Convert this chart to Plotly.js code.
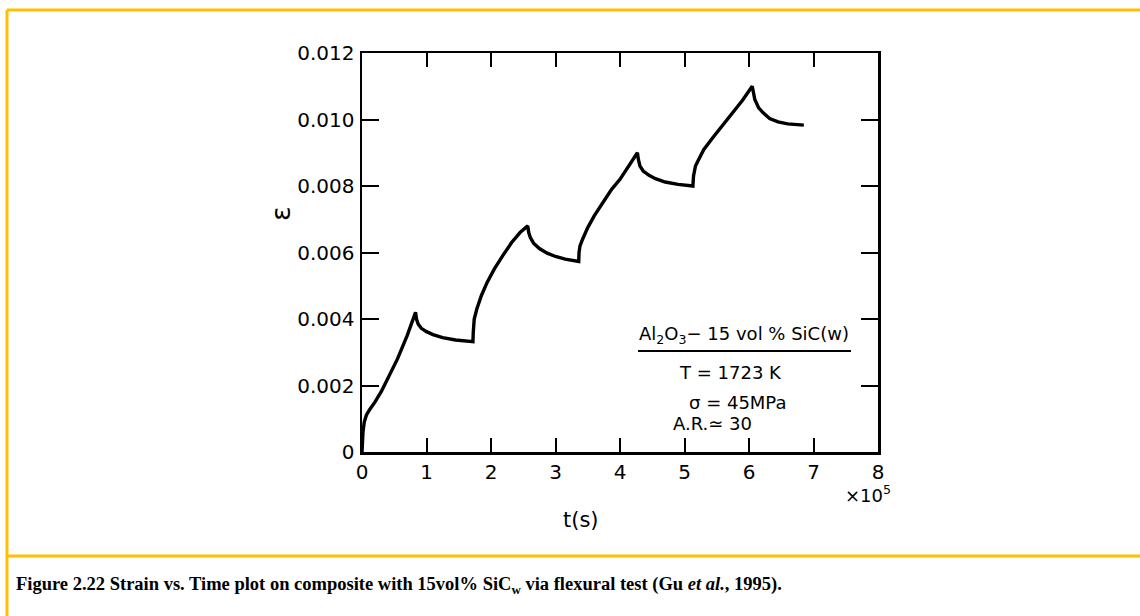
<!DOCTYPE html>
<html>
<head>
<meta charset="utf-8">
<script src="https://cdn.plot.ly/plotly-3.0.1.min.js"></script>
<style>
  html, body { margin: 0; padding: 0; background: #ffffff; }
  #chart { width: 1140px; height: 616px; }
</style>
</head>
<body>
<div id="chart"></div>
<script>
// time in units of 10^5 s
const timeValues = [
  0, 0.005, 0.015, 0.035, 0.07, 0.12, 0.2, 0.3, 0.42, 0.55, 0.7, 0.83,
  0.845, 0.87, 0.92, 1.0, 1.1, 1.25, 1.45, 1.72,
  1.725, 1.74, 1.78, 1.85, 1.94, 2.05, 2.18, 2.32, 2.45, 2.57,
  2.585, 2.61, 2.66, 2.75, 2.87, 3.0, 3.15, 3.36,
  3.365, 3.38, 3.42, 3.5, 3.6, 3.74, 3.87, 4.0, 4.13, 4.27,
  4.285, 4.31, 4.36, 4.45, 4.55, 4.7, 4.9, 5.13,
  5.14, 5.17, 5.22, 5.3, 5.45, 5.6, 5.75, 5.9, 6.05,
  6.065, 6.09, 6.15, 6.22, 6.32, 6.45, 6.6, 6.85
];
// strain
const strainValues = [
  0, 0.0003, 0.0006, 0.0009, 0.00112, 0.00128, 0.0015, 0.00182, 0.0023, 0.0028, 0.0035, 0.0042,
  0.0040, 0.00385, 0.00372, 0.00362, 0.00353, 0.00344, 0.00337, 0.00332,
  0.0036, 0.0040, 0.0043, 0.0047, 0.0051, 0.0055, 0.0059, 0.0063, 0.0066, 0.0068,
  0.0066, 0.00645, 0.00628, 0.00612, 0.00598, 0.00588, 0.0058, 0.00573,
  0.0060, 0.0062, 0.0064, 0.00675, 0.0071, 0.00752, 0.0079, 0.0082, 0.0086, 0.0090,
  0.0088, 0.0086, 0.00845, 0.00832, 0.00822, 0.00812, 0.00805, 0.0080,
  0.0083, 0.0086, 0.0088, 0.0091, 0.00948, 0.00985, 0.0102, 0.01058, 0.0110,
  0.0108, 0.0106, 0.01035, 0.0102, 0.01003, 0.00993, 0.00987, 0.00983
];
const xTickVals = [0, 1, 2, 3, 4, 5, 6, 7, 8];
const xTickText = ["0", "1", "2", "3", "4", "5", "6", "7", "8"];
const yTickVals = [0, 0.002, 0.004, 0.006, 0.008, 0.010, 0.012];
const yTickText = ["0", "0.002", "0.004", "0.006", "0.008", "0.010", "0.012"];
const legendLines = [
  "Al<sub>2</sub>O<sub>3</sub>\u2212 15 vol % SiC(w)",
  "T = 1723 K",
  "\u03c3 = 45MPa",
  "A.R.\u2243 30"
];
const captionText = "<b>Figure 2.22 Strain vs. Time plot on composite with 15vol% SiC<sub>w</sub> via flexural test (Gu <i>et al.</i>, 1995).</b>";

// plot area geometry (pixels)
const L = 362, R = 878, T = 53, B = 452, W = 1140, H = 616;
const px = x => (x - L) / (R - L);
const py = y => (B - y) / (B - T);

const font = "DejaVu Sans, sans-serif";
const frameColor = "#FFC000";

const trace = {
  x: timeValues,
  y: strainValues,
  mode: "lines",
  type: "scatter",
  line: { color: "#000000", width: 3.4 },
  hoverinfo: "skip"
};

const ann = (text, x, y, extra) => Object.assign({
  text: text, xref: "paper", yref: "paper", x: px(x), y: py(y),
  showarrow: false, font: { family: font, size: 18, color: "#000" },
  xanchor: "center", yanchor: "middle"
}, extra || {});

const layout = {
  width: W, height: H,
  margin: { l: L, r: W - R, t: T, b: H - B, pad: 0 },
  paper_bgcolor: "#ffffff",
  plot_bgcolor: "#ffffff",
  showlegend: false,
  xaxis: {
    range: [0, 8],
    tickvals: xTickVals, ticktext: xTickText,
    ticks: "inside", ticklen: 14, tickwidth: 2, tickcolor: "#000",
    showline: true, linecolor: "#000", linewidth: 2.5, mirror: "ticks",
    showgrid: false, zeroline: false,
    tickfont: { family: font, size: 20, color: "#000" },
    ticklabelstandoff: 0,
    fixedrange: true
  },
  yaxis: {
    range: [0, 0.012],
    tickvals: yTickVals, ticktext: yTickText,
    ticks: "inside", ticklen: 17, tickwidth: 2, tickcolor: "#000",
    showline: true, linecolor: "#000", linewidth: 2.5, mirror: "ticks",
    showgrid: false, zeroline: false,
    tickfont: { family: font, size: 20, color: "#000" },
    ticklabelstandoff: 1,
    fixedrange: true
  },
  annotations: [
    ann("\u03b5", 280, 214, { textangle: -90, font: { family: font, size: 27, color: "#000" } }),
    ann("t(s)", 581, 520, { font: { family: font, size: 21, color: "#000" } }),
    ann("\u00d710<sup>5</sup>", 868, 494, { font: { family: font, size: 18, color: "#000" } }),
    ann(legendLines[0], 744, 335),
    ann(legendLines[1], 730, 372),
    ann(legendLines[2], 737, 402),
    ann(legendLines[3], 712, 423),
    ann(captionText, 14, 585, { xanchor: "left", font: { family: "Liberation Serif, Times New Roman, serif", size: 18.5, color: "#000" } })
  ],
  shapes: [
    { type: "line", xref: "paper", yref: "paper", x0: px(638), x1: px(851), y0: py(351), y1: py(351), line: { color: "#000", width: 2 } },
    { type: "line", xref: "paper", yref: "paper", x0: px(7), x1: px(1140), y0: py(10), y1: py(10), line: { color: frameColor, width: 3 } },
    { type: "line", xref: "paper", yref: "paper", x0: px(7), x1: px(7), y0: py(10), y1: py(616), line: { color: frameColor, width: 3 } },
    { type: "line", xref: "paper", yref: "paper", x0: px(7), x1: px(1140), y0: py(556), y1: py(556), line: { color: frameColor, width: 3 } }
  ]
};

Plotly.newPlot("chart", [trace], layout, { displayModeBar: false, staticPlot: true });
</script>
</body>
</html>
